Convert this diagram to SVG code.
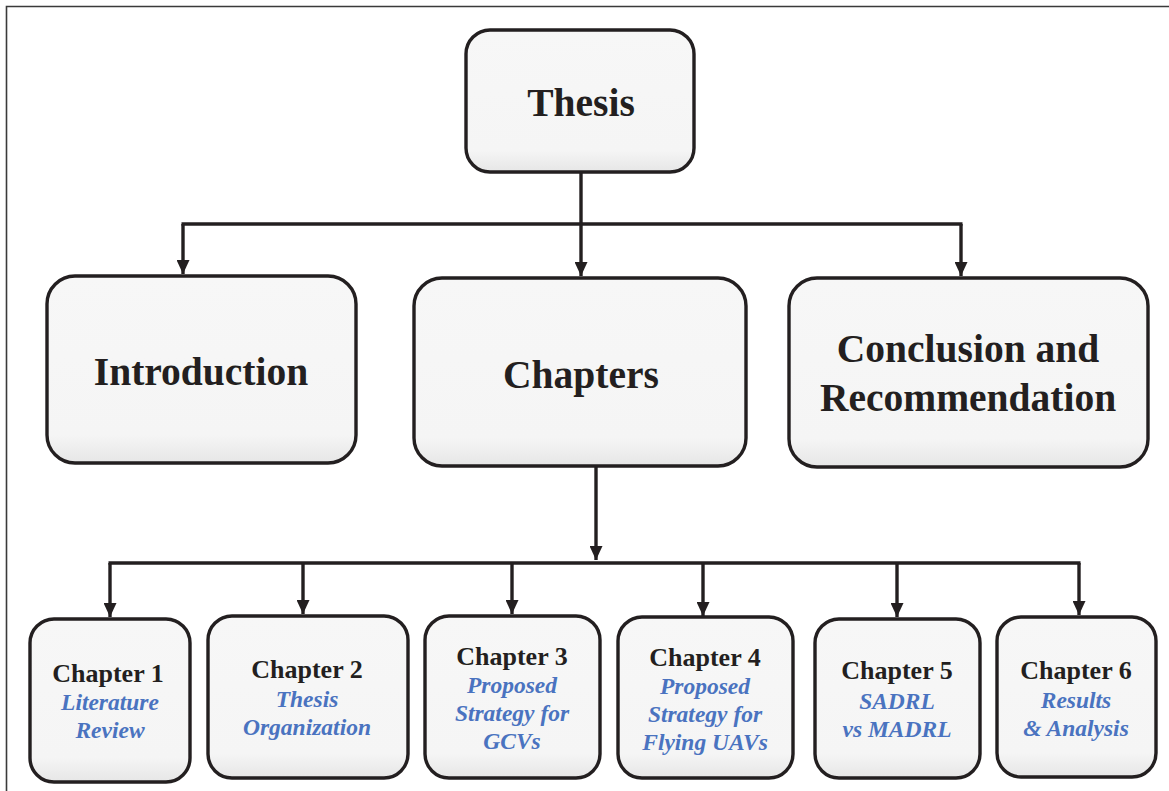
<svg xmlns="http://www.w3.org/2000/svg" width="1169" height="791" viewBox="0 0 1169 791">
  <style>
    .box { fill: url(#boxFill); stroke: #231f20; stroke-width: 3.4; }
    .wire { fill: none; stroke: #231f20; stroke-width: 3.4; }
    .head { font-family: "Liberation Serif", "Times New Roman", serif; font-weight: bold; fill: #231f20; text-anchor: middle; }
    .sub { font-family: "Liberation Serif", "Times New Roman", serif; font-weight: bold; font-style: italic; fill: #4a73c0; text-anchor: middle; font-size: 23.5px; }
    .big { font-size: 39.5px; }
    .small { font-size: 26px; }
  </style>
  <defs>
    <linearGradient id="boxFill" x1="0" y1="0" x2="0" y2="1">
      <stop offset="0" stop-color="#f7f7f7"/>
      <stop offset="0.85" stop-color="#f5f5f5"/>
      <stop offset="1" stop-color="#e6e6e6"/>
    </linearGradient>
    <marker id="arrow" markerUnits="userSpaceOnUse" markerWidth="15" markerHeight="13" refX="14" refY="6.5" orient="auto">
      <path d="M0,0 L14,6.5 L0,13 z" fill="#231f20"/>
    </marker>
  </defs>

  <rect width="1169" height="791" fill="#ffffff"/>
  <!-- page frame (top and left edges) -->
  <path d="M6.5,791 V6.5 H1169" fill="none" stroke="#3a3a3a" stroke-width="1.6"/>

  <g id="connectors">
    <path class="wire" d="M581,172 V224"/>
    <path class="wire" d="M181.5,224 H962.5"/>
    <path class="wire" d="M183,224 V274" marker-end="url(#arrow)"/>
    <path class="wire" d="M581,224 V276" marker-end="url(#arrow)"/>
    <path class="wire" d="M961,224 V276" marker-end="url(#arrow)"/>

    <path class="wire" d="M596,466 V560" marker-end="url(#arrow)"/>
    <path class="wire" d="M108.5,563 H1080.5"/>
    <path class="wire" d="M110,563 V617" marker-end="url(#arrow)"/>
    <path class="wire" d="M303,563 V614" marker-end="url(#arrow)"/>
    <path class="wire" d="M512,563 V614" marker-end="url(#arrow)"/>
    <path class="wire" d="M703,563 V616" marker-end="url(#arrow)"/>
    <path class="wire" d="M897,563 V617" marker-end="url(#arrow)"/>
    <path class="wire" d="M1079,563 V615" marker-end="url(#arrow)"/>
  </g>

  <g id="thesis">
    <rect class="box" x="466" y="30" width="228" height="142" rx="24"/>
    <text class="head big" x="581" y="116">Thesis</text>
  </g>

  <g id="introduction">
    <rect class="box" x="47" y="276" width="309" height="187" rx="28"/>
    <text class="head big" x="201" y="385">Introduction</text>
  </g>

  <g id="chapters">
    <rect class="box" x="414" y="278" width="332" height="188" rx="28"/>
    <text class="head big" x="581" y="388">Chapters</text>
  </g>

  <g id="conclusion">
    <rect class="box" x="789" y="278" width="359" height="189" rx="28"/>
    <text class="head big" x="968" y="362">Conclusion and</text>
    <text class="head big" x="968" y="411">Recommendation</text>
  </g>

  <g id="chapter1">
    <rect class="box" x="30" y="619" width="160" height="163" rx="24"/>
    <text class="head small" x="108" y="682">Chapter 1</text>
    <text class="sub" x="110" y="710">Literature</text>
    <text class="sub" x="110" y="738">Review</text>
  </g>

  <g id="chapter2">
    <rect class="box" x="208" y="616" width="200" height="162" rx="24"/>
    <text class="head small" x="307" y="678">Chapter 2</text>
    <text class="sub" x="307" y="707">Thesis</text>
    <text class="sub" x="307" y="735">Organization</text>
  </g>

  <g id="chapter3">
    <rect class="box" x="425" y="616" width="175" height="162" rx="24"/>
    <text class="head small" x="512" y="665">Chapter 3</text>
    <text class="sub" x="512" y="693">Proposed</text>
    <text class="sub" x="512" y="721">Strategy for</text>
    <text class="sub" x="512" y="749">GCVs</text>
  </g>

  <g id="chapter4">
    <rect class="box" x="618" y="617" width="175" height="161" rx="24"/>
    <text class="head small" x="705" y="666">Chapter 4</text>
    <text class="sub" x="705" y="694">Proposed</text>
    <text class="sub" x="705" y="722">Strategy for</text>
    <text class="sub" x="705" y="750">Flying UAVs</text>
  </g>

  <g id="chapter5">
    <rect class="box" x="815" y="619" width="165" height="159" rx="24"/>
    <text class="head small" x="897" y="679">Chapter 5</text>
    <text class="sub" x="897" y="709">SADRL</text>
    <text class="sub" x="897" y="737">vs MADRL</text>
  </g>

  <g id="chapter6">
    <rect class="box" x="997" y="617" width="159" height="160" rx="24"/>
    <text class="head small" x="1076" y="679">Chapter 6</text>
    <text class="sub" x="1076" y="708">Results</text>
    <text class="sub" x="1076" y="736">&amp; Analysis</text>
  </g>
</svg>
